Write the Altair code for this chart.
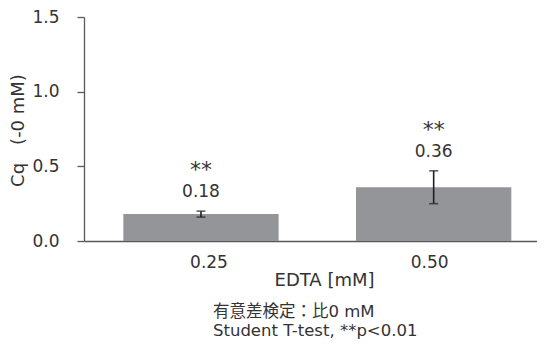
import altair as alt
import pandas as pd

# ---- data ----
conc = ["0.25", "0.50"]
mean_cq = [0.18, 0.36]
err_cq = [0.02, 0.11]
value_labels = ["0.18", "0.36"]
sig_marks = ["**", "**"]
y_ticks = [0.0, 0.5, 1.0, 1.5]
note_lines = ["有意差検定：比0 mM", "Student T-test, **p<0.01"]

df = pd.DataFrame({"conc": conc, "mean": mean_cq, "err": err_cq,
                   "label": value_labels, "sig": sig_marks})
df["lo"] = df["mean"] - df["err"]
df["hi"] = df["mean"] + df["err"]

FONT = "DejaVu Sans"
TXT = "#333333"
AX = "#58595b"
BAR = "#939598"
ERR = "#231f20"

xscale = alt.Scale(paddingInner=0.3326, paddingOuter=0.1397, align=0.605)
xaxis = alt.Axis(title="EDTA [mM]", labelAngle=0, ticks=False, tickSize=0,
                 labelPadding=13, labelBaseline="top", labelFontSize=17,
                 labelOffset={"condition": {"test": "datum.value === '0.25'", "value": 8},
                              "value": -4},
                 labelFont=FONT, labelColor=TXT, titleFont=FONT, titleFontSize=18,
                 titleColor=TXT, titleFontWeight="normal", titleX=240, titleY=44,
                 titleBaseline="alphabetic", titleAlign="center",
                 domainColor=AX, domainWidth=1.3)
yscale = alt.Scale(domain=[0, 1.5], nice=False, zero=True)
yaxis = alt.Axis(title="Cq　(-0 mM)", values=y_ticks, format=".1f", grid=False,
                 tickSize=7, tickColor=AX, tickWidth=1.3, domainColor=AX,
                 domainWidth=1.3, labelPadding=18, labelFontSize=17, labelFont=FONT,
                 labelColor=TXT, titleFont=FONT, titleFontSize=18, titleColor=TXT,
                 titleFontWeight="normal", titleX=-61, titleY=113, titleAngle=270,
                 titleBaseline="alphabetic", titleAlign="center")


def X():
    return alt.X("conc:N", sort=conc, scale=xscale, axis=xaxis)


def Y(field):
    return alt.Y(f"{field}:Q", scale=yscale, axis=yaxis)


base = alt.Chart(df)
bars = base.mark_bar(color=BAR).encode(x=X(), y=Y("mean"))
rule = base.mark_rule(color=ERR, strokeWidth=1.6).encode(x=X(), y=Y("lo"), y2="hi:Q")
cap_lo = base.mark_tick(color=ERR, thickness=1.6, size=9).encode(x=X(), y=Y("lo"))
cap_hi = base.mark_tick(color=ERR, thickness=1.6, size=9).encode(x=X(), y=Y("hi"))
vals = base.mark_text(font=FONT, fontSize=17, color=TXT, baseline="alphabetic",
                      dy=-14).encode(x=X(), y=Y("hi"), text="label:N")
stars = base.mark_text(font=FONT, fontSize=22, color=TXT, baseline="alphabetic",
                       dy=-34).encode(x=X(), y=Y("hi"), text="sig:N")

chart = alt.layer(bars, rule, cap_lo, cap_hi, vals, stars).properties(
    width=453,
    height=224,
    autosize=alt.AutoSizeParams(type="none"),
    padding={"left": 76, "top": 9, "right": 0, "bottom": 100},
    title=alt.TitleParams(text=note_lines, orient="bottom", anchor="start",
                          frame="group", dx=129, offset=15, fontSize=16.5,
                          font="DejaVu Sans, Noto Sans CJK JP", fontWeight="normal",
                          color=TXT, lineHeight=18.5, baseline="top"),
).configure_view(stroke=None)

chart.save("out.html", embed_options={"renderer": "svg", "actions": False})
